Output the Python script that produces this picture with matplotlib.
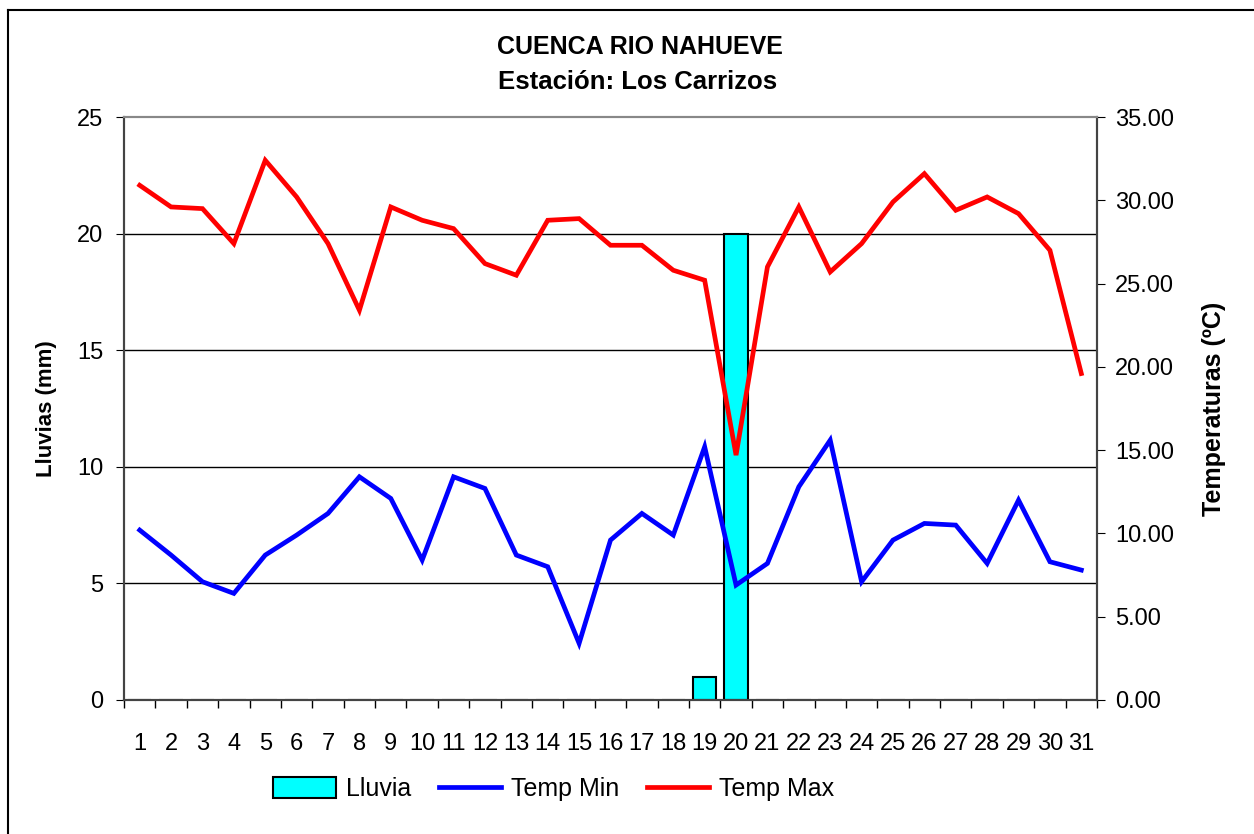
import matplotlib
matplotlib.use("Agg")
import matplotlib.pyplot as plt
from matplotlib.lines import Line2D
from matplotlib.patches import Patch
import numpy as np

plt.rcParams["font.family"] = ["Liberation Sans", "DejaVu Sans"]

# datos diarios (mes de 31 dias)
DIAS = list(range(1, 32))
LLUVIA = [0, 0, 0, 0, 0, 0, 0, 0, 0, 0, 0, 0, 0, 0, 0, 0, 0, 0, 1.0, 20.0,
          0, 0, 0, 0, 0, 0, 0, 0, 0, 0, 0]
TMIN = [10.2, 8.7, 7.1, 6.4, 8.7, 9.9, 11.2, 13.4, 12.1, 8.4, 13.4, 12.7, 8.7,
        8.0, 3.4, 9.6, 11.2, 9.9, 15.2, 6.9, 8.2, 12.8, 15.6, 7.1, 9.6, 10.6,
        10.5, 8.2, 12.0, 8.3, 7.8]
TMAX = [30.9, 29.6, 29.5, 27.4, 32.4, 30.2, 27.4, 23.4, 29.6, 28.8, 28.3, 26.2,
        25.5, 28.8, 28.9, 27.3, 27.3, 25.8, 25.2, 14.7, 26.0, 29.6, 25.7, 27.4,
        29.9, 31.6, 29.4, 30.2, 29.2, 27.0, 19.6]

W, H = 1254, 834
fig = plt.figure(figsize=(W / 100, H / 100), dpi=100)
ax = fig.add_axes([124 / W, 1 - 700 / H, (1097 - 124) / W, (700 - 117) / H])
ax2 = ax.twinx()

x = np.array(DIAS)
ax.bar(x, LLUVIA, width=0.75, color="#00FFFF", edgecolor="black", lw=1.5, zorder=2)
ax.set_ylim(0, 25)
ax.set_xlim(0.5, 31.5)
ax.set_yticks([0, 5, 10, 15, 20, 25])
for g in [5, 10, 15, 20]:
    ax.axhline(g, color="black", lw=1, zorder=1)

ax2.plot(x, TMIN, color="#0000FF", lw=3.4, solid_joinstyle="miter")
ax2.plot(x, TMAX, color="#FF0000", lw=3.4, solid_joinstyle="miter")
ax2.set_ylim(0, 35)
ax2.set_yticks(np.arange(0, 36, 5))
ax2.set_yticklabels([f"{v:.2f}" for v in np.arange(0, 36, 5)])

# ticks de categoria en los limites, etiquetas al centro
ax.set_xticks(np.arange(0.5, 32, 1))
ax.set_xticklabels([])
ax.set_xticks(x, minor=True)
ax.set_xticklabels([str(d) for d in DIAS], minor=True, fontsize=17)
ax.tick_params(axis="x", which="major", direction="out", length=6, width=1)
ax.tick_params(axis="x", which="minor", length=0, pad=24)
ax.tick_params(axis="y", direction="out", length=6, labelsize=17, pad=9)
ax2.tick_params(axis="y", direction="out", length=6, labelsize=17, pad=7)

for a in (ax, ax2):
    a.spines["top"].set_color("#888888")
    a.spines["top"].set_linewidth(1.5)
    for s in ("left", "right", "bottom"):
        a.spines[s].set_linewidth(1.5)
        a.spines[s].set_color("#444444")

ax.set_ylabel("Lluvias (mm)", fontsize=16, fontweight="bold", labelpad=14)
ax2.set_ylabel("Temperaturas (ºC)", fontsize=18, fontweight="bold", labelpad=20)

fig.text(640 / W, 1 - 47 / H, "CUENCA RIO NAHUEVE", ha="center", va="center",
         fontsize=18, fontweight="bold")
fig.text(638 / W, 1 - 82 / H, "Estación: Los Carrizos", ha="center", va="center",
         fontsize=18.5, fontweight="bold")

handles = [Patch(facecolor="#00FFFF", edgecolor="black", lw=1.5),
           Line2D([], [], color="#0000FF", lw=3.4),
           Line2D([], [], color="#FF0000", lw=3.4)]
fig.legend(handles, ["Lluvia", "Temp Min", "Temp Max"], loc="center",
           bbox_to_anchor=(554 / W, 1 - 789 / H), ncol=3, frameon=False,
           fontsize=18, handlelength=2.5, handleheight=0.9, columnspacing=1.1,
           handletextpad=0.4)

# marco exterior (solo arriba e izquierda visibles)
fig.add_artist(Line2D([8 / W, 8 / W], [0, 1 - 10 / H], color="black", lw=1.5))
fig.add_artist(Line2D([8 / W, 1], [1 - 10 / H, 1 - 10 / H], color="black", lw=1.5))

fig.savefig("out.png", dpi=100)
